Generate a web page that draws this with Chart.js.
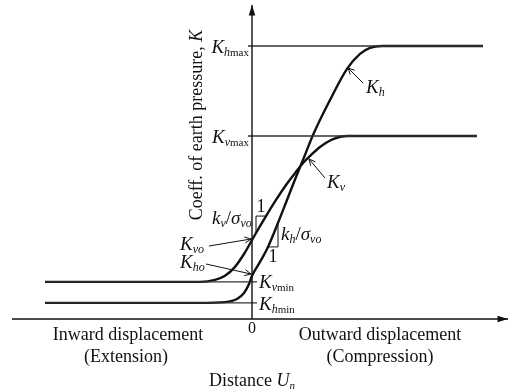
<!DOCTYPE html>
<html>
<head>
<meta charset="utf-8">
<script src="https://cdn.jsdelivr.net/npm/chart.js@4"></script>
<style>
    html, body { margin: 0; padding: 0; background: #fff; }
    canvas { display: block; }
</style>
</head>
<body>
<canvas id="chart" width="512" height="392"></canvas>
<script>
// displacement (arbitrary units, 0 = wall at rest) and coefficient K
const dispKh = [-8.28, -2.08, -1.08, -0.6, -0.32, -0.12, 0, 0.32, 0.64, 1.04, 1.4, 1.76, 2.12, 2.44, 3.12, 3.8, 4.32, 4.72, 5.2, 9.24];
const kh = [0.59, 0.59, 0.62, 0.73, 0.95, 1.28, 1.58, 2.09, 2.64, 3.52, 4.36, 5.2, 6.01, 6.74, 8.02, 9.16, 9.71, 9.93, 10.0, 10.0];

const dispKv = [-8.28, -2.08, -1.48, -1.08, -0.68, -0.32, 0, 0.16, 0.56, 0.96, 1.36, 1.76, 2.08, 2.32, 2.72, 3.24, 3.8, 9.0];
const kv = [1.36, 1.36, 1.43, 1.58, 1.91, 2.38, 2.89, 3.15, 3.77, 4.36, 4.91, 5.39, 5.75, 5.97, 6.3, 6.59, 6.7, 6.7];

// limit levels and how far their guide lines run
const kMaxLevels = [10.0, 6.7];      // K_hmax, K_vmax
const kMaxEnds = [9.24, 9.0];
const kMinLevels = [1.36, 0.59];     // K_vmin, K_hmin
const kMinStart = -8.28;

// slope triangles: index pairs on each curve
const kvTri = [7, 8];
const khTri = [8, 9];

const SERIF = '"Liberation Serif", "Times New Roman", "DejaVu Serif", serif';

function pts(xs, ys) {
    return xs.map((x, i) => ({ x, y: ys[i] }));
}

function guide(a, b) {
    return {
        data: [a, b],
        borderColor: "#333",
        borderWidth: 1.4,
        pointRadius: 0,
        showLine: true,
        tension: 0,
    };
}

function thin(list) {
    return {
        data: list,
        borderColor: "#111",
        borderWidth: 1,
        pointRadius: 0,
        showLine: true,
        tension: 0,
    };
}

function curve(list) {
    return {
        data: list,
        borderColor: "#111",
        borderWidth: 2.4,
        pointRadius: 0,
        showLine: true,
        cubicInterpolationMode: "monotone",
    };
}

const datasets = [
    guide({ x: -0.16, y: kMaxLevels[0] }, { x: kMaxEnds[0], y: kMaxLevels[0] }),
    guide({ x: -0.16, y: kMaxLevels[1] }, { x: kMaxEnds[1], y: kMaxLevels[1] }),
    guide({ x: kMinStart, y: kMinLevels[0] }, { x: 0.2, y: kMinLevels[0] }),
    guide({ x: kMinStart, y: kMinLevels[1] }, { x: 0.2, y: kMinLevels[1] }),
    // k_v / sigma_vo triangle (legs left + top)
    thin([
        { x: dispKv[kvTri[0]], y: kv[kvTri[0]] },
        { x: dispKv[kvTri[0]], y: kv[kvTri[1]] },
        { x: dispKv[kvTri[1]], y: kv[kvTri[1]] },
    ]),
    // k_h / sigma_vo triangle (legs bottom + right)
    thin([
        { x: dispKh[khTri[0]], y: kh[khTri[0]] },
        { x: dispKh[khTri[1]], y: kh[khTri[0]] },
        { x: dispKh[khTri[1]], y: kh[khTri[1]] },
    ]),
    curve(pts(dispKv, kv)),
    curve(pts(dispKh, kh)),
];

// draws a run of text pieces (for subscripts / italics)
function runWidth(ctx, parts) {
    let w = 0;
    parts.forEach((p) => {
        ctx.font = (p.i ? "italic " : "") + p.s + "px " + SERIF;
        w += ctx.measureText(p.t).width;
    });
    return w;
}
function drawRun(ctx, x, y, parts, align) {
    const w = runWidth(ctx, parts);
    if (align === "right") x -= w;
    if (align === "center") x -= w / 2;
    ctx.textAlign = "left";
    ctx.textBaseline = "alphabetic";
    parts.forEach((p) => {
        ctx.font = (p.i ? "italic " : "") + p.s + "px " + SERIF;
        ctx.fillText(p.t, x, y + (p.d || 0));
        x += ctx.measureText(p.t).width;
    });
}
function K(sub, rest) {
    const parts = [{ t: "K", i: true, s: 19 }, { t: sub, i: true, s: 12, d: 3 }];
    if (rest) parts.push({ t: rest, s: 11, d: 3 });
    return parts;
}
function arrow(ctx, x0, y0, x1, y1, filled, size) {
    const a = Math.atan2(y1 - y0, x1 - x0);
    ctx.beginPath();
    ctx.moveTo(x0, y0);
    ctx.lineTo(x1, y1);
    ctx.stroke();
    const s = size || 7;
    const w = filled ? 0.3 : 0.45;
    ctx.beginPath();
    ctx.moveTo(x1 - s * Math.cos(a - w), y1 - s * Math.sin(a - w));
    ctx.lineTo(x1, y1);
    ctx.lineTo(x1 - s * Math.cos(a + w), y1 - s * Math.sin(a + w));
    if (filled) {
        ctx.closePath();
        ctx.fill();
    } else {
        ctx.stroke();
    }
}

const labels = {
    id: "labels",
    afterDraw(chart) {
        const ctx = chart.ctx;
        const xs = chart.scales.x;
        const ys = chart.scales.y;
        const ox = xs.getPixelForValue(0);
        const oy = ys.getPixelForValue(0);
        ctx.save();
        ctx.fillStyle = "#111";
        ctx.strokeStyle = "#111";

        // axes
        ctx.lineWidth = 1.4;
        arrow(ctx, xs.left, oy, xs.right, oy, true, 11);
        arrow(ctx, ox, oy, ox, ys.top, true, 11);

        // level labels
        drawRun(ctx, ox - 3, ys.getPixelForValue(kMaxLevels[0]) + 7, K("h", "max"), "right");
        drawRun(ctx, ox - 3, ys.getPixelForValue(kMaxLevels[1]) + 7, K("v", "max"), "right");
        drawRun(ctx, ox + 7, ys.getPixelForValue(kMinLevels[0]) + 6, K("v", "min"));
        drawRun(ctx, ox + 7, ys.getPixelForValue(kMinLevels[1]) + 7, K("h", "min"));

        // curve labels with pointers
        ctx.lineWidth = 1;
        drawRun(ctx, 366, 93, K("h"));
        arrow(ctx, 363, 83, 348, 68, false, 7);
        drawRun(ctx, 327, 188, K("v"));
        arrow(ctx, 325, 178, 309, 159, false, 7);
        drawRun(ctx, 180, 250, K("vo"));
        arrow(ctx, 209, 246, 251, 239, false, 7);
        drawRun(ctx, 180, 268, K("ho"));
        arrow(ctx, 206, 264, 251, 274, false, 7);

        // slope labels
        drawRun(ctx, 212, 224, [
            { t: "k", i: true, s: 19 }, { t: "v", i: true, s: 12, d: 3 },
            { t: "/", s: 19 }, { t: "σ", i: true, s: 19 }, { t: "vo", i: true, s: 12, d: 3 },
        ]);
        drawRun(ctx, 281, 240, [
            { t: "k", i: true, s: 19 }, { t: "h", i: true, s: 12, d: 3 },
            { t: "/", s: 19 }, { t: "σ", i: true, s: 19 }, { t: "vo", i: true, s: 12, d: 3 },
        ]);
        const t1x = (xs.getPixelForValue(dispKv[kvTri[0]]) + xs.getPixelForValue(dispKv[kvTri[1]])) / 2;
        drawRun(ctx, t1x, ys.getPixelForValue(kv[kvTri[1]]) - 4, [{ t: "1", s: 18 }], "center");
        const t2x = (xs.getPixelForValue(dispKh[khTri[0]]) + xs.getPixelForValue(dispKh[khTri[1]])) / 2;
        drawRun(ctx, t2x, ys.getPixelForValue(kh[khTri[0]]) + 15, [{ t: "1", s: 18 }], "center");

        // axis texts
        drawRun(ctx, ox, oy + 14, [{ t: "0", s: 16 }], "center");
        drawRun(ctx, 128, 340, [{ t: "Inward displacement", s: 18 }], "center");
        drawRun(ctx, 126, 362, [{ t: "(Extension)", s: 18 }], "center");
        drawRun(ctx, 380, 340, [{ t: "Outward displacement", s: 18 }], "center");
        drawRun(ctx, 380, 362, [{ t: "(Compression)", s: 18 }], "center");
        drawRun(ctx, 252, 386, [
            { t: "Distance ", s: 18 }, { t: "U", i: true, s: 18 }, { t: "n", i: true, s: 11, d: 3 },
        ], "center");

        ctx.translate(202, 125);
        ctx.rotate(-Math.PI / 2);
        drawRun(ctx, 0, 0, [{ t: "Coeff. of earth pressure, ", s: 18 }, { t: "K", i: true, s: 18 }], "center");
        ctx.restore();
    },
};

new Chart(document.getElementById("chart"), {
    type: "scatter",
    data: { datasets },
    options: {
        responsive: false,
        animation: false,
        layout: { padding: { left: 12, right: 4, top: 5, bottom: 73 } },
        scales: {
            x: { type: "linear", min: -9.6, max: 10.24, display: false },
            y: { type: "linear", min: 0, max: 11.5, display: false },
        },
        plugins: {
            legend: { display: false },
            tooltip: { enabled: false },
        },
    },
    plugins: [labels],
});
</script>
</body>
</html>
